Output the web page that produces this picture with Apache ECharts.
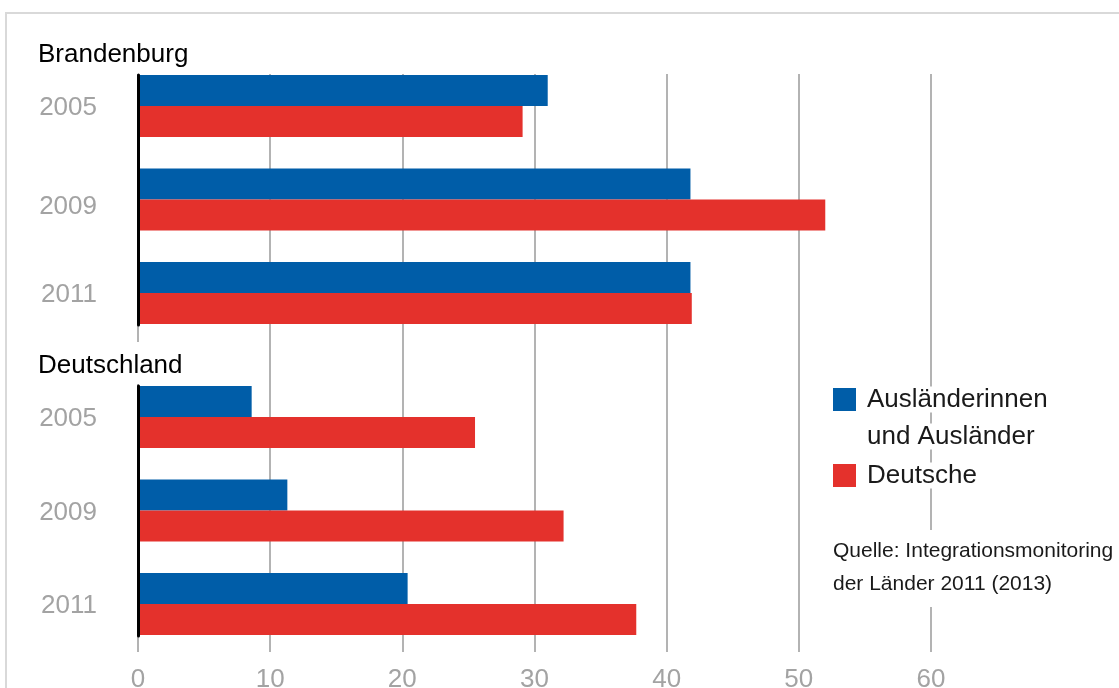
<!DOCTYPE html>
<html>
<head>
<meta charset="utf-8">
<script src="https://cdn.jsdelivr.net/npm/echarts@6/dist/echarts.min.js"></script>
<style>
  html, body { margin: 0; padding: 0; background: #fff; }
  #frame { position: absolute; left: 5px; top: 12px; width: 1200px; height: 800px;
           border-top: 2px solid #d9d9d9; border-left: 2px solid #d9d9d9; }
  #chart { position: absolute; left: 0; top: 0; width: 1119px; height: 688px; }
</style>
</head>
<body>
<div id="frame"></div>
<div id="chart"></div>
<script>
// ---- data ----
const groups = ['Brandenburg', 'Deutschland'];
const years = ['2005', '2009', '2011'];
const seriesNames = ['Ausländerinnen\nund Ausländer', 'Deutsche'];
const brandenburgForeign = [31.0, 41.8, 41.8];
const brandenburgGerman = [29.1, 52.0, 41.9];
const deutschlandForeign = [8.6, 11.3, 20.4];
const deutschlandGerman = [25.5, 32.2, 37.7];
const xTicks = [0, 10, 20, 30, 40, 50, 60];
const sourceText = 'Quelle: Integrationsmonitoring\nder Länder 2011 (2013)';

// ---- style ----
const FONT = '"Liberation Sans", Arial, sans-serif';
const BLUE = '#005da8';
const RED = '#e4312c';
const GRID_GREY = '#b3b3b3';
const LABEL_GREY = '#a3a3a3';
const TEXT = '#1a1a1a';
// small vertical nudges of the year labels (top padding, px) per grid
const yearLabelPad = { 1: [4, 15, 4], 2: [4, 5, 4] };

const xMin = xTicks[0], xMax = xTicks[xTicks.length - 1], xInt = xTicks[1] - xTicks[0];
const L = 138, W = 793;

const chart = echarts.init(document.getElementById('chart'));

function hiddenX(gi) {
  return { gridIndex: gi, type: 'value', min: xMin, max: xMax, interval: xInt, show: false };
}
function yearAxis(gi) {
  const rich = {};
  yearLabelPad[gi].forEach((p, i) => {
    rich['y' + i] = { fontSize: 26, color: LABEL_GREY, fontFamily: FONT, padding: [p, 0, 0, 0] };
  });
  return {
    gridIndex: gi, type: 'category', inverse: true, data: years,
    axisLine: { show: false }, axisTick: { show: false }, splitLine: { show: false },
    axisLabel: {
      margin: 41, fontSize: 26, color: LABEL_GREY, fontFamily: FONT, rich: rich,
      formatter: function (v, i) { return '{y' + i + '|' + v + '}'; }
    }
  };
}
function blackAxis(gi) {
  return {
    gridIndex: gi, type: 'category', data: years, inverse: true, z: 5,
    axisLine: { show: true, lineStyle: { color: '#000', width: 3 } },
    axisTick: { show: false }, axisLabel: { show: false }, splitLine: { show: false }
  };
}
function bar(name, data, gi, color) {
  return {
    name: name, type: 'bar', xAxisIndex: gi, yAxisIndex: gi, data: data,
    barWidth: 31, barGap: '0%', itemStyle: { color: color }, z: 2
  };
}
const gridBase = { left: L, width: W, containLabel: false, outerBoundsMode: 'none' };

chart.setOption({
  animation: false,
  backgroundColor: 'transparent',
  title: [
    { text: groups[0], left: 38, top: 40, padding: 0,
      textStyle: { fontSize: 26, lineHeight: 30, fontWeight: 'normal', color: '#000', fontFamily: FONT } },
    { text: groups[1], left: 38, top: 342, padding: [9, 6, 3, 0], backgroundColor: '#fff', z: 1,
      textStyle: { fontSize: 26, lineHeight: 30, fontWeight: 'normal', color: '#000', fontFamily: FONT } },
    { text: sourceText, left: 833, top: 530, padding: [5, 6, 6, 0], backgroundColor: '#fff',
      textStyle: { fontSize: 21, lineHeight: 33, fontWeight: 'normal', color: TEXT, fontFamily: FONT } }
  ],
  legend: {
    orient: 'vertical', left: 833, top: 344, padding: 0, itemGap: 2,
    itemWidth: 23, itemHeight: 23, icon: 'rect',
    itemStyle: { borderWidth: 0 },
    formatter: function (name) { return name.split('\n').map(s => '{t|' + s + '}').join('\n'); },
    textStyle: {
      fontSize: 26, lineHeight: 37, color: TEXT, fontFamily: FONT,
      rich: { t: { fontSize: 26, lineHeight: 37, color: TEXT, fontFamily: FONT, backgroundColor: '#fff' } }
    },
    data: [
      { name: seriesNames[0], textStyle: { padding: [37, 0, 0, 6] } },
      { name: seriesNames[1], textStyle: { padding: [0, 0, 0, 6] } }
    ]
  },
  grid: [
    Object.assign({ top: 74, height: 578 }, gridBase),
    Object.assign({ top: 59.25, height: 280.5 }, gridBase),
    Object.assign({ top: 370.25, height: 280.5 }, gridBase),
    Object.assign({ top: 75, height: 250 }, gridBase),
    Object.assign({ top: 386, height: 250 }, gridBase)
  ],
  xAxis: [
    {
      gridIndex: 0, type: 'value', min: xMin, max: xMax, interval: xInt,
      axisLine: { show: false }, axisTick: { show: false },
      splitLine: { show: true, showMinLine: true, showMaxLine: true, lineStyle: { color: GRID_GREY, width: 2 } },
      axisLabel: { margin: 15, fontSize: 26, color: LABEL_GREY, fontFamily: FONT }
    },
    hiddenX(1), hiddenX(2), hiddenX(3), hiddenX(4)
  ],
  yAxis: [
    { gridIndex: 0, type: 'category', data: years, show: false },
    yearAxis(1), yearAxis(2), blackAxis(3), blackAxis(4)
  ],
  series: [
    bar(seriesNames[0], brandenburgForeign, 1, BLUE),
    bar(seriesNames[1], brandenburgGerman, 1, RED),
    bar(seriesNames[0], deutschlandForeign, 2, BLUE),
    bar(seriesNames[1], deutschlandGerman, 2, RED)
  ]
});
</script>
</body>
</html>
